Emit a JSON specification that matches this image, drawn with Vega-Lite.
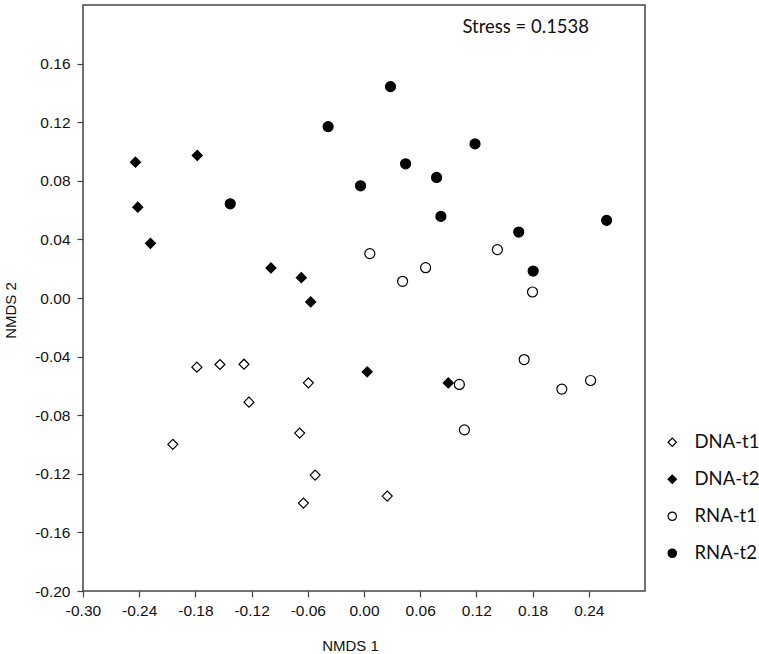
{
  "$schema": "https://vega.github.io/schema/vega-lite/v6.json",
  "width": 562,
  "height": 586,
  "autosize": "none",
  "padding": {"left": 83, "top": 5, "right": 114, "bottom": 63},
  "background": "white",
  "config": {
    "view": {"stroke": "#444444", "strokeWidth": 1.5},
    "axis": {"grid": false, "domain": false, "tickColor": "#444444", "tickSize": 6, "tickWidth": 1.2,
             "labelFont": "Liberation Sans", "labelFontSize": 15.5, "labelColor": "#111111", "labelFlush": false, "labelOverlap": false,
             "titleFont": "Liberation Sans", "titleFontSize": 15, "titleFontWeight": "normal", "titleColor": "#111111"}
  },
  "layer": [
    {
      "data": {"values": [
        {"x": -0.1784, "y": -0.0472, "g": "DNA-t1"},
        {"x": -0.1538, "y": -0.0454, "g": "DNA-t1"},
        {"x": -0.1281, "y": -0.0452, "g": "DNA-t1"},
        {"x": -0.1228, "y": -0.0711, "g": "DNA-t1"},
        {"x": -0.0594, "y": -0.0579, "g": "DNA-t1"},
        {"x": -0.2041, "y": -0.0999, "g": "DNA-t1"},
        {"x": -0.0687, "y": -0.0922, "g": "DNA-t1"},
        {"x": -0.0522, "y": -0.1209, "g": "DNA-t1"},
        {"x": -0.0647, "y": -0.1400, "g": "DNA-t1"},
        {"x": 0.0248, "y": -0.1352, "g": "DNA-t1"},
        {"x": -0.2440, "y": 0.0927, "g": "DNA-t2"},
        {"x": -0.2415, "y": 0.0620, "g": "DNA-t2"},
        {"x": -0.2280, "y": 0.0373, "g": "DNA-t2"},
        {"x": -0.1780, "y": 0.0973, "g": "DNA-t2"},
        {"x": -0.0993, "y": 0.0205, "g": "DNA-t2"},
        {"x": -0.0669, "y": 0.0139, "g": "DNA-t2"},
        {"x": -0.0569, "y": -0.0027, "g": "DNA-t2"},
        {"x": 0.0034, "y": -0.0504, "g": "DNA-t2"},
        {"x": 0.0900, "y": -0.0580, "g": "DNA-t2"},
        {"x": 0.0062, "y": 0.0303, "g": "RNA-t1"},
        {"x": 0.0412, "y": 0.0114, "g": "RNA-t1"},
        {"x": 0.0658, "y": 0.0207, "g": "RNA-t1"},
        {"x": 0.1424, "y": 0.0330, "g": "RNA-t1"},
        {"x": 0.1799, "y": 0.0041, "g": "RNA-t1"},
        {"x": 0.1710, "y": -0.0420, "g": "RNA-t1"},
        {"x": 0.1018, "y": -0.0590, "g": "RNA-t1"},
        {"x": 0.2112, "y": -0.0622, "g": "RNA-t1"},
        {"x": 0.2419, "y": -0.0563, "g": "RNA-t1"},
        {"x": 0.1072, "y": -0.0900, "g": "RNA-t1"},
        {"x": -0.1428, "y": 0.0643, "g": "RNA-t2"},
        {"x": -0.0383, "y": 0.1170, "g": "RNA-t2"},
        {"x": -0.0037, "y": 0.0766, "g": "RNA-t2"},
        {"x": 0.0283, "y": 0.1443, "g": "RNA-t2"},
        {"x": 0.0444, "y": 0.0916, "g": "RNA-t2"},
        {"x": 0.1185, "y": 0.1052, "g": "RNA-t2"},
        {"x": 0.0775, "y": 0.0823, "g": "RNA-t2"},
        {"x": 0.0821, "y": 0.0557, "g": "RNA-t2"},
        {"x": 0.1652, "y": 0.0450, "g": "RNA-t2"},
        {"x": 0.1806, "y": 0.0184, "g": "RNA-t2"},
        {"x": 0.2590, "y": 0.0530, "g": "RNA-t2"}
      ]},
      "mark": {"type": "point", "filled": true, "stroke": "black", "strokeWidth": 1.2, "size": 100, "opacity": 1},
      "encoding": {
        "x": {"field": "x", "type": "quantitative",
              "scale": {"domain": [-0.3, 0.3], "nice": false, "zero": false},
              "axis": {"title": "NMDS 1", "values": [-0.3, -0.24, -0.18, -0.12, -0.06, 0, 0.06, 0.12, 0.18, 0.24],
                       "format": ".2f", "labelExpr": "replace(datum.label, '\u2212', '-')", "labelPadding": 6,
                       "labelFontSize": 15.5, "labelFont": "Liberation Sans", "labelFlush": false,
                       "titleX": 267, "titleY": 59, "titleAlign": "center", "titleBaseline": "alphabetic"}},
        "y": {"field": "y", "type": "quantitative",
              "scale": {"domain": [-0.2, 0.2], "nice": false, "zero": false},
              "axis": {"title": "NMDS 2", "values": [-0.2, -0.16, -0.12, -0.08, -0.04, 0, 0.04, 0.08, 0.12, 0.16],
                       "format": ".2f", "labelExpr": "replace(datum.label, '\u2212', '-')", "labelPadding": 7,
                       "labelFontSize": 15.5, "labelFont": "Liberation Sans", "labelFlush": false,
                       "titleX": -68, "titleY": 305, "titleAngle": -90, "titleAlign": "center", "titleBaseline": "alphabetic"}},
        "shape": {"field": "g", "type": "nominal",
                  "scale": {"domain": ["DNA-t1", "DNA-t2", "RNA-t1", "RNA-t2"], "range": ["diamond", "diamond", "circle", "circle"]},
                  "legend": {"title": null, "orient": "none", "legendX": 580, "legendY": 428, "padding": 0,
                             "labelFont": "Lato", "labelFontSize": 18.5, "labelColor": "#111111", "labelOffset": 13, "labelLimit": 200,
                             "symbolSize": 70, "symbolStrokeWidth": 1.2, "rowPadding": 18, "labelBaseline": "middle"}},
        "fill": {"field": "g", "type": "nominal",
                 "scale": {"domain": ["DNA-t1", "DNA-t2", "RNA-t1", "RNA-t2"], "range": ["white", "black", "white", "black"]}}
      }
    },
    {
      "data": {"values": [{"x": 0.1727, "y": 0.181, "label": "Stress = 0.1538"}]},
      "mark": {"type": "text", "font": "Lato", "fontSize": 18.5, "align": "center", "baseline": "alphabetic", "color": "#111111"},
      "encoding": {
        "x": {"field": "x", "type": "quantitative"},
        "y": {"field": "y", "type": "quantitative"},
        "text": {"field": "label"}
      }
    }
  ]
}
